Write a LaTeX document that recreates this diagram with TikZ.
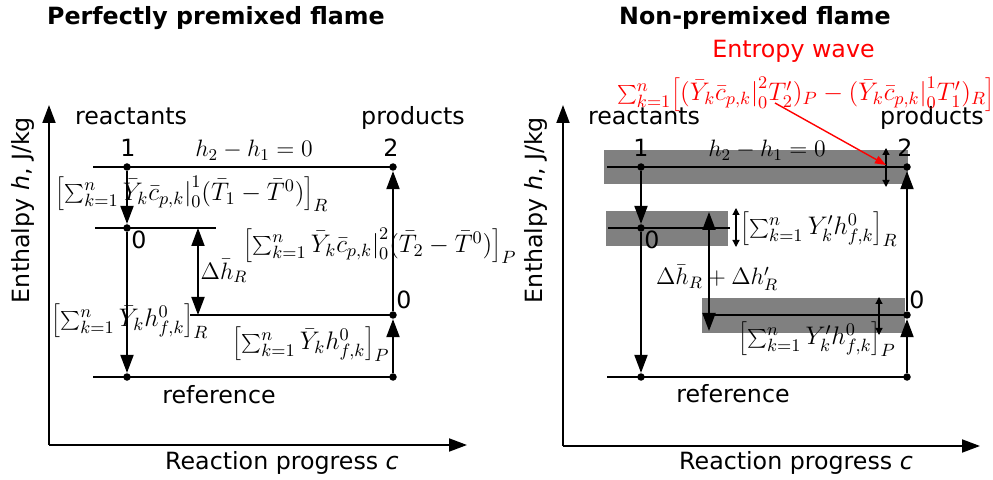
\RequirePackage{fix-cm}
\documentclass[tikz,border=0pt]{standalone}
\usepackage{fontspec}
\usetikzlibrary{arrows.meta}
\newfontfamily\dejavu{DejaVu Sans}

\tikzset{
  lvl/.style={line width=1.1pt},
  dot/.style={circle,fill=black,inner sep=0pt,minimum size=0.15cm},
  arr/.style={line width=1.1pt,-{Triangle[length=0.36cm,width=0.26cm]}},
  dblarr/.style={line width=1.1pt,{Triangle[length=0.36cm,width=0.26cm]}-{Triangle[length=0.36cm,width=0.26cm]}},
  smallarr/.style={line width=0.7pt,{Triangle[length=0.14cm,width=0.14cm]}-{Triangle[length=0.14cm,width=0.14cm]}},
  band/.style={fill=black!50,draw=none},
  lbl/.style={font=\dejavu\fontsize{13.5}{16}\selectfont,inner sep=0pt},
  eqn/.style={font=\fontsize{13.5}{16}\selectfont,inner sep=0pt},
  sumeqn/.style={eqn,scale=1.07},
}

\begin{document}
\begin{tikzpicture}
\useasboundingbox (0,0) rectangle (19.86,9.58);

% Perfectly premixed flame
\node[lbl,anchor=base] (t1) at (4.32,9.08) {\bfseries Perfectly premixed flame};
\coordinate (o1) at (0.98,0.68);
\coordinate (y1) at (0.98,7.48);
\coordinate (x1) at (9.34,0.68);
\draw[arr] (o1) -- (y1);
\draw[arr] (o1) -- (x1);
\node[lbl,anchor=base,rotate=90] (ya1) at (0.58,5.38) {Enthalpy {\itshape h}, J/kg};
\node[lbl,anchor=base] (xa1) at (5.64,0.20) {Reaction progress {\itshape c}};

\draw[lvl] (1.86,6.24) -- (7.86,6.24);
\draw[lvl] (1.90,5.02) -- (4.32,5.02);
\draw[lvl] (3.80,3.28) -- (7.86,3.28);
\draw[lvl] (1.86,2.04) -- (7.86,2.04);

\node[dot] (a1) at (2.54,6.24) {};
\node[dot] (a2) at (7.86,6.24) {};
\node[dot] (a0) at (2.54,5.02) {};
\node[dot] (ap) at (7.86,3.28) {};
\node[dot] (ar) at (2.54,2.04) {};
\node[dot] (aq) at (7.86,2.04) {};

\draw[arr] (a1) -- (a0);
\draw[arr] (a0) -- (ar);
\draw[arr] (aq) -- (ap);
\draw[arr] (ap) -- (a2);
\coordinate (dha) at (3.96,5.02);
\coordinate (dhb) at (3.96,3.28);
\draw[dblarr] (dha) -- (dhb);

\node[lbl,anchor=base] (re1) at (2.62,7.08) {reactants};
\node[lbl,anchor=base] (pr1) at (8.26,7.08) {products};
\node[lbl,anchor=base] (rf1) at (4.38,1.52) {reference};
\node[lbl] (n1a) at (2.56,6.62) {1};
\node[lbl] (n2a) at (7.82,6.62) {2};
\node[lbl] (z1a) at (2.78,4.78) {0};
\node[lbl] (z2a) at (8.08,3.58) {0};
\node[eqn] (dd1) at (5.08,6.58) {$h_2-h_1=0$};
\node[sumeqn] (cpr) at (3.84,5.70) {$\Bigl[\sum_{k=1}^{n}\bar{Y}_k\bar{c}_{p,k}\big|_0^1(\bar{T}_1-\bar{T}^0)\Bigr]_R$};
\node[sumeqn] (cpp) at (7.60,4.66) {$\Bigl[\sum_{k=1}^{n}\bar{Y}_k\bar{c}_{p,k}\big|_0^2(\bar{T}_2-\bar{T}^0)\Bigr]_P$};
\node[eqn] (dh1) at (4.48,4.16) {$\Delta\bar{h}_R$};
\node[sumeqn] (hfr) at (2.60,3.16) {$\Bigl[\sum_{k=1}^{n}\bar{Y}_k h^0_{f,k}\Bigr]_R$};
\node[sumeqn] (hfp) at (6.22,2.70) {$\Bigl[\sum_{k=1}^{n}\bar{Y}_k h^0_{f,k}\Bigr]_P$};

% Non-premixed flame
\node[lbl,anchor=base] (t2) at (15.10,9.08) {\bfseries Non-premixed flame};
\coordinate (o2) at (11.26,0.66);
\coordinate (y2) at (11.26,7.48);
\coordinate (x2) at (19.60,0.66);
\draw[arr] (o2) -- (y2);
\draw[arr] (o2) -- (x2);
\node[lbl,anchor=base,rotate=90] (ya2) at (10.84,5.38) {Enthalpy {\itshape h}, J/kg};
\node[lbl,anchor=base] (xa2) at (15.92,0.20) {Reaction progress {\itshape c}};

\fill[band] (12.08,5.90) rectangle (18.16,6.58);
\fill[band] (12.12,4.66) rectangle (14.56,5.36);
\fill[band] (14.04,2.92) rectangle (18.10,3.62);

\draw[lvl] (12.14,6.24) -- (18.14,6.24);
\draw[lvl] (12.16,5.02) -- (14.60,5.02);
\draw[lvl] (14.06,3.28) -- (18.14,3.28);
\draw[lvl] (12.14,2.04) -- (18.14,2.04);

\node[dot] (b1) at (12.82,6.24) {};
\node[dot] (b2) at (18.14,6.24) {};
\node[dot] (b0) at (12.82,5.02) {};
\node[dot] (bp) at (18.14,3.28) {};
\node[dot] (br) at (12.82,2.04) {};
\node[dot] (bq) at (18.14,2.04) {};

\draw[arr] (b1) -- (b0);
\draw[arr] (b0) -- (br);
\draw[arr] (bq) -- (bp);
\draw[arr] (bp) -- (b2);
\coordinate (dhc) at (14.18,5.34);
\coordinate (dhd) at (14.18,2.96);
\draw[dblarr] (dhc) -- (dhd);
\coordinate (sa1) at (17.72,6.62);
\coordinate (sa2) at (17.72,5.84);
\draw[smallarr] (sa1) -- (sa2);
\coordinate (sb1) at (14.72,5.42);
\coordinate (sb2) at (14.72,4.64);
\draw[smallarr] (sb1) -- (sb2);
\coordinate (sc1) at (17.58,3.64);
\coordinate (sc2) at (17.58,2.88);
\draw[smallarr] (sc1) -- (sc2);

\node[lbl,anchor=base] (re2) at (12.88,7.08) {reactants};
\node[lbl,anchor=base] (pr2) at (18.64,7.08) {products};
\node[lbl,anchor=base] (rf2) at (14.66,1.54) {reference};
\node[lbl] (n1b) at (12.82,6.62) {1};
\node[lbl] (n2b) at (18.10,6.62) {2};
\node[lbl] (z1b) at (13.04,4.78) {0};
\node[lbl] (z2b) at (18.34,3.58) {0};
\node[eqn] (dd2) at (15.34,6.58) {$h_2-h_1=0$};
\node[eqn] (dh2) at (14.34,4.02) {$\Delta\bar{h}_R+\Delta h'_R$};
\node[sumeqn] (yfr) at (16.38,5.00) {$\Bigl[\sum_{k=1}^{n}Y'_k h^0_{f,k}\Bigr]_R$};
\node[sumeqn] (yfp) at (16.34,2.80) {$\Bigl[\sum_{k=1}^{n}Y'_k h^0_{f,k}\Bigr]_P$};

% entropy wave
\node[lbl,anchor=base,text=red] (ew) at (15.87,8.42) {Entropy wave};
\node[sumeqn,text=red] (ewf) at (16.12,7.70) {$\sum_{k=1}^{n}\Bigl[(\bar{Y}_k\bar{c}_{p,k}\big|_0^2T'_2)_P-(\bar{Y}_k\bar{c}_{p,k}\big|_0^1T'_1)_R\Bigr]$};
\coordinate (ewa) at (15.50,7.52);
\coordinate (ewb) at (17.72,6.28);
\draw[red,line width=0.8pt,-{Triangle[length=0.22cm,width=0.16cm]}] (ewa) -- (ewb);

\end{tikzpicture}
\end{document}
